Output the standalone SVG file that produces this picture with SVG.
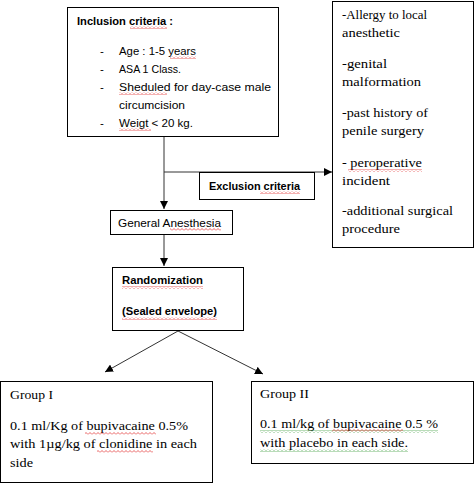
<svg xmlns="http://www.w3.org/2000/svg" width="476" height="501" viewBox="0 0 476 501">
<style>
.box{fill:#fff;stroke:#000;stroke-width:1}
.con{fill:none;stroke:#333;stroke-width:1}
.sans{font-family:"Liberation Sans",Arial,sans-serif;font-size:11.5px;fill:#000}
.b{font-weight:bold}
.serif{font-family:"Liberation Serif","Times New Roman",serif;font-size:13.5px;fill:#000}
</style>
<defs>
<marker id="ah" viewBox="0 0 10 10" refX="10" refY="5" markerWidth="8" markerHeight="8" markerUnits="userSpaceOnUse" orient="auto">
<path d="M0,0 L10,5 L0,10 Z" fill="#000"/>
</marker>
<pattern id="wr" width="4" height="3" patternUnits="userSpaceOnUse">
<path d="M0,2.5 L2,0.5 L4,2.5" fill="none" stroke="#e02020" stroke-width="0.7"/>
</pattern>
<pattern id="wg" width="4" height="3" patternUnits="userSpaceOnUse">
<path d="M0,2.5 L2,0.5 L4,2.5" fill="none" stroke="#3a9a3a" stroke-width="0.7"/>
</pattern>
</defs>

<g id="connectors">
<line class="con" x1="164" y1="136" x2="164" y2="209" marker-end="url(#ah)"/>
<line class="con" x1="164" y1="172" x2="332" y2="172" marker-end="url(#ah)"/>
<line class="con" x1="164" y1="235" x2="164" y2="266" marker-end="url(#ah)"/>
<line class="con" x1="178" y1="331" x2="105" y2="372" marker-end="url(#ah)"/>
<line class="con" x1="178" y1="331" x2="263" y2="374" marker-end="url(#ah)"/>
</g>

<g id="inclusion">
<rect class="box" x="67.5" y="7.5" width="211" height="129"/>
<text class="sans b" x="77" y="25" textLength="96" lengthAdjust="spacingAndGlyphs">Inclusion criteria :</text>
<text class="sans" x="100" y="55">-</text>
<text class="sans" x="119" y="55" textLength="77" lengthAdjust="spacingAndGlyphs">Age : 1-5 years</text>
<text class="sans" x="100" y="73">-</text>
<text class="sans" x="119" y="73" textLength="62" lengthAdjust="spacingAndGlyphs">ASA 1 Class.</text>
<text class="sans" x="100" y="91">-</text>
<text class="sans" x="119" y="91" textLength="152" lengthAdjust="spacingAndGlyphs">Sheduled for day-case male</text>
<text class="sans" x="119" y="109" textLength="66" lengthAdjust="spacingAndGlyphs">circumcision</text>
<text class="sans" x="100" y="127">-</text>
<text class="sans" x="119" y="127" textLength="74" lengthAdjust="spacingAndGlyphs">Weigt &lt; 20 kg.</text>
<rect x="130" y="26" width="37" height="3" fill="url(#wr)"/>
<rect x="170" y="56" width="26" height="3" fill="url(#wr)"/>
<rect x="119" y="92" width="48" height="3" fill="url(#wr)"/>
<rect x="119" y="128" width="32" height="3" fill="url(#wr)"/>
</g>

<g id="exclusion-label">
<rect class="box" x="199.5" y="172.5" width="115" height="27"/>
<text class="sans b" x="209" y="190" textLength="91" lengthAdjust="spacingAndGlyphs">Exclusion criteria</text>
<rect x="260" y="191" width="40" height="3" fill="url(#wr)"/>
</g>

<g id="exclusion-list">
<rect class="box" x="332.5" y="1.5" width="141" height="246"/>
<text class="serif" x="342" y="19" textLength="85" lengthAdjust="spacingAndGlyphs">-Allergy to local</text>
<text class="serif" x="342" y="37" textLength="58" lengthAdjust="spacingAndGlyphs">anesthetic</text>
<text class="serif" x="342" y="68" textLength="45" lengthAdjust="spacingAndGlyphs">-genital</text>
<text class="serif" x="342" y="86" textLength="79" lengthAdjust="spacingAndGlyphs">malformation</text>
<text class="serif" x="342" y="117" textLength="86" lengthAdjust="spacingAndGlyphs">-past history of</text>
<text class="serif" x="342" y="135" textLength="82" lengthAdjust="spacingAndGlyphs">penile surgery</text>
<text class="serif" x="342" y="167" textLength="80" lengthAdjust="spacingAndGlyphs">- peroperative</text>
<text class="serif" x="342" y="185" textLength="48" lengthAdjust="spacingAndGlyphs">incident</text>
<text class="serif" x="342" y="215" textLength="111" lengthAdjust="spacingAndGlyphs">-additional surgical</text>
<text class="serif" x="342" y="233" textLength="58" lengthAdjust="spacingAndGlyphs">procedure</text>
<rect x="348" y="169" width="74" height="3" fill="url(#wr)"/>
</g>

<g id="general-anesthesia">
<rect class="box" x="110.5" y="210.5" width="122" height="24"/>
<text class="sans" x="118" y="227" textLength="103" lengthAdjust="spacingAndGlyphs">General Anesthesia</text>
<rect x="170" y="228" width="51" height="3" fill="url(#wr)"/>
</g>

<g id="randomization">
<rect class="box" x="112.5" y="267.5" width="131" height="63"/>
<text class="sans b" x="122" y="284" textLength="81" lengthAdjust="spacingAndGlyphs">Randomization</text>
<text class="sans b" x="122" y="315" textLength="95" lengthAdjust="spacingAndGlyphs">(Sealed envelope)</text>
<rect x="122" y="286" width="81" height="3" fill="url(#wr)"/>
<rect x="122" y="317" width="95" height="3" fill="url(#wr)"/>
</g>

<g id="group1">
<rect class="box" x="0.5" y="381.5" width="212" height="101"/>
<text class="serif" x="10" y="399" textLength="43" lengthAdjust="spacingAndGlyphs">Group I</text>
<text class="serif" x="10" y="430" textLength="178" lengthAdjust="spacingAndGlyphs">0.1 ml/Kg of bupivacaine 0.5%</text>
<text class="serif" x="10" y="448" textLength="187" lengthAdjust="spacingAndGlyphs">with 1µg/kg of clonidine in each</text>
<text class="serif" x="10" y="467" textLength="23" lengthAdjust="spacingAndGlyphs">side</text>
<rect x="85" y="432" width="71" height="3" fill="url(#wr)"/>
<rect x="97" y="450" width="56" height="3" fill="url(#wr)"/>
</g>

<g id="group2">
<rect class="box" x="251.5" y="381.5" width="222" height="82"/>
<text class="serif" x="260" y="398" textLength="49" lengthAdjust="spacingAndGlyphs">Group II</text>
<text class="serif" x="260" y="428" textLength="178" lengthAdjust="spacingAndGlyphs">0.1 ml/kg of bupivacaine 0.5 %</text>
<text class="serif" x="260" y="447" textLength="148" lengthAdjust="spacingAndGlyphs">with placebo in each side.</text>
<rect x="260" y="430" width="178" height="3" fill="url(#wg)"/>
<rect x="332" y="429" width="71" height="3" fill="url(#wr)"/>
<rect x="260" y="449" width="148" height="3" fill="url(#wg)"/>
</g>
</svg>
